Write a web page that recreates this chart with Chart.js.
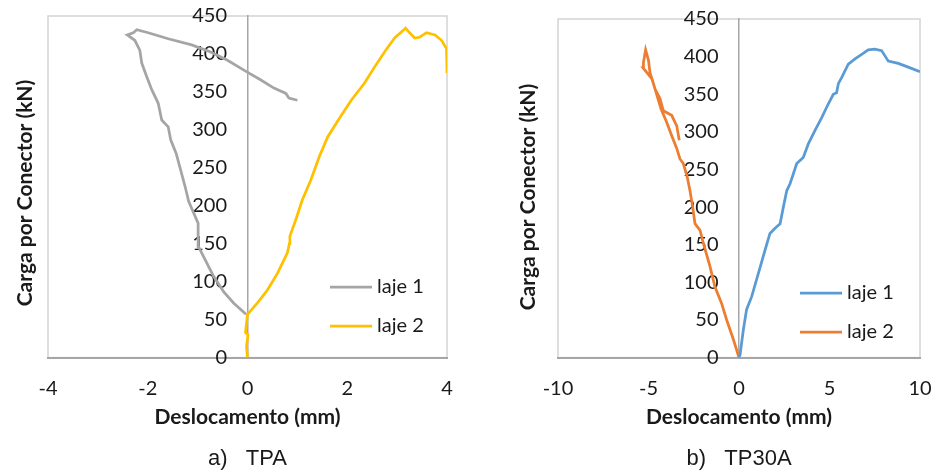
<!DOCTYPE html>
<html>
<head>
<meta charset="utf-8">
<script src="https://cdn.jsdelivr.net/npm/chart.js@4"></script>
<style>
  html, body { margin: 0; padding: 0; background: #fff; }
  body { width: 932px; height: 472px; position: relative; overflow: hidden; }
  .panel { position: absolute; top: 0; }
</style>
</head>
<body>
<div class="panel" style="left:0"><canvas id="chart-tpa" width="470" height="472"></canvas></div>
<div class="panel" style="left:470px"><canvas id="chart-tp30a" width="462" height="472"></canvas></div>
<script>
document.addEventListener("DOMContentLoaded", function() {

  // ===== dados (deslocamento em mm, carga em kN)
  const seriesNames = ['laje 1', 'laje 2'];
  const yTicks = [0, 50, 100, 150, 200, 250, 300, 350, 400, 450];
  const tpaXTicks = [-4, -2, 0, 2, 4];
  const tp30aXTicks = [-10, -5, 0, 5, 10];

  // a) TPA
  const tpaLaje1X = [-0.03, -0.28, -0.48, -0.68, -0.85, -0.98, -0.99, -1.05, -1.18, -1.25, -1.36, -1.43, -1.54, -1.59, -1.72, -1.79, -1.92, -2.02, -2.12, -2.16, -2.26, -2.41, -2.29, -2.22, -1.99, -1.59, -1.12, -0.75, -0.41, -0.03, 0.26, 0.53, 0.77, 0.83, 1.0];
  const tpaLaje1Y = [57, 72, 87, 107, 129, 146, 177, 186, 206, 225, 252, 269, 287, 304, 313, 335, 353, 370, 388, 405, 418, 425, 428, 432, 428, 420, 412, 403, 392, 377, 366, 355, 348, 342, 339];
  const tpaLaje2X = [0, -0.02, 0.01, -0.04, 0, 0.2, 0.4, 0.6, 0.8, 0.84, 0.85, 0.97, 1.10, 1.27, 1.44, 1.61, 1.84, 2.08, 2.34, 2.55, 2.75, 2.95, 3.17, 3.22, 3.35, 3.45, 3.59, 3.76, 3.89, 3.99, 4.0];
  const tpaLaje2Y = [0, 15, 30, 33, 57, 72, 89, 111, 138, 150, 160, 182, 208, 234, 265, 291, 315, 339, 361, 383, 403, 421, 434, 430, 421, 422, 428, 425, 418, 407, 375];

  // b) TP30A
  const tp30aLaje1X = [0, 0.06, 0.24, 0.42, 0.70, 1.07, 1.44, 1.71, 1.99, 2.27, 2.45, 2.64, 2.82, 3.0, 3.19, 3.55, 3.83, 4.20, 4.57, 4.93, 5.21, 5.39, 5.49, 5.67, 6.04, 6.41, 6.78, 7.14, 7.5, 7.88, 8.25, 8.80, 9.35, 10.0];
  const tp30aLaje1Y = [0, 4, 37, 64, 81, 112, 143, 165, 172, 178, 200, 222, 231, 244, 258, 266, 284, 302, 319, 337, 350, 352, 364, 372, 390, 397, 403, 409, 410, 408, 394, 391, 386, 380];
  const tp30aLaje2X = [0, -0.31, -0.68, -0.96, -1.33, -1.60, -1.97, -2.15, -2.43, -2.56, -2.71, -2.86, -3.08, -3.26, -3.44, -3.72, -4.0, -4.3, -4.55, -4.8, -5.3, -5.28, -5.16, -5.0, -4.92, -4.64, -4.36, -4.18, -3.72, -3.44, -3.30];
  const tp30aLaje2Y = [0, 24, 50, 72, 94, 121, 152, 169, 178, 200, 222, 240, 258, 264, 278, 295, 313, 330, 350, 370, 385, 392, 409, 395, 379, 357, 344, 328, 322, 308, 289];

  const zip = (xs, ys) => xs.map((x, i) => ({x: x, y: ys[i]}));

  // moldura, titulo do eixo y e legenda desenhados a mao
  const decor = {
    id: 'decor',
    beforeDraw(chart, args, opts) {
      const {ctx, chartArea: a} = chart;
      ctx.save();
      ctx.strokeStyle = '#d4d4d4';
      ctx.lineWidth = 1.5;
      ctx.strokeRect(a.left, a.top, a.right - a.left, a.bottom - a.top);
      ctx.restore();
    },
    afterDraw(chart, args, opts) {
      const ctx = chart.ctx;
      ctx.save();
      // y title
      ctx.translate(opts.yTitleX, opts.yTitleY);
      ctx.rotate(-Math.PI / 2);
      ctx.font = 'bold 21px Lato';
      ctx.fillStyle = '#1a1a1a';
      ctx.textAlign = 'center';
      ctx.textBaseline = 'middle';
      ctx.fillText('Carga por Conector (kN)', 0, 0);
      ctx.restore();
      // legenda
      ctx.save();
      chart.data.datasets.forEach((ds, i) => {
        const y = opts.legendY + i * 39;
        ctx.strokeStyle = ds.borderColor;
        ctx.lineWidth = 2.75;
        ctx.beginPath();
        ctx.moveTo(opts.legendX, y);
        ctx.lineTo(opts.legendX + 42, y);
        ctx.stroke();
        ctx.font = '20px Lato';
        ctx.fillStyle = '#1a1a1a';
        ctx.textBaseline = 'middle';
        ctx.fillText(ds.label, opts.legendX + 47, y);
      });
      ctx.restore();
    }
  };

  function makeChart(el, cfg) {
    return new Chart(el, {
      type: 'scatter',
      data: {
        datasets: [
          { label: seriesNames[0], data: cfg.s1, borderColor: cfg.c1, backgroundColor: cfg.c1 },
          { label: seriesNames[1], data: cfg.s2, borderColor: cfg.c2, backgroundColor: cfg.c2 }
        ]
      },
      options: {
        responsive: false,
        animation: false,
        showLine: true,
        elements: {
          point: { radius: 0, hoverRadius: 0 },
          line: { borderWidth: 2.75, tension: 0 }
        },
        layout: { padding: cfg.pad },
        scales: {
          x: {
            min: cfg.xTicks[0],
            max: cfg.xTicks[cfg.xTicks.length - 1],
            afterBuildTicks: axis => { axis.ticks = cfg.xTicks.map(v => ({value: v})); },
            afterFit: axis => { axis.height = 88; axis.paddingLeft = 0; axis.paddingRight = 0; },
            grid: { display: false, drawTicks: false },
            border: { display: true, color: '#a6a6a6', width: 2 },
            ticks: { padding: 19, color: '#1a1a1a', font: { family: 'Lato', size: 20 }, maxRotation: 0 },
            title: {
              display: true,
              text: 'Deslocamento (mm)',
              color: '#1a1a1a',
              font: { family: 'Lato', size: 21, weight: 'bold' },
              padding: { top: 0, bottom: 16 }
            }
          },
          y: {
            position: { x: 0 },
            min: 0,
            max: 450,
            afterBuildTicks: axis => { axis.ticks = yTicks.map(v => ({value: v})); },
            afterFit: axis => { axis.paddingTop = 0; axis.paddingBottom = 0; },
            grid: { display: false, drawTicks: false },
            border: { display: true, color: '#a6a6a6', width: 1.5 },
            // o eixo fica em x=0, entao o afastamento vai no proprio rotulo
            ticks: { color: '#1a1a1a', font: { family: 'Lato', size: 20 }, callback: v => v + '    ' }
          }
        },
        plugins: {
          legend: { display: false },
          tooltip: { enabled: false },
          title: {
            display: true,
            position: 'bottom',
            text: cfg.caption,
            color: '#1a1a1a',
            font: { family: 'Liberation Sans', size: 22, weight: 'normal' },
            padding: { top: 0, bottom: 0 }
          },
          decor: cfg.decor
        }
      },
      plugins: [decor]
    });
  }

  makeChart(document.getElementById('chart-tpa'), {
    s1: zip(tpaLaje1X, tpaLaje1Y),
    s2: zip(tpaLaje2X, tpaLaje2Y),
    c1: '#a5a5a5',
    c2: '#ffc000',
    xTicks: tpaXTicks,
    pad: { left: 48, right: 23, top: 16, bottom: 0 },
    caption: 'a)   TPA',
    decor: { yTitleX: 25, yTitleY: 193, legendX: 330, legendY: 287 }
  });

  makeChart(document.getElementById('chart-tp30a'), {
    s1: zip(tp30aLaje1X, tp30aLaje1Y),
    s2: zip(tp30aLaje2X, tp30aLaje2Y),
    c1: '#5b9bd5',
    c2: '#ed7d31',
    xTicks: tp30aXTicks,
    pad: { left: 88, right: 12, top: 19, bottom: 0 },
    caption: 'b)   TP30A',
    decor: { yTitleX: 58, yTitleY: 197, legendX: 330, legendY: 293 }
  });

});
</script>
</body>
</html>
